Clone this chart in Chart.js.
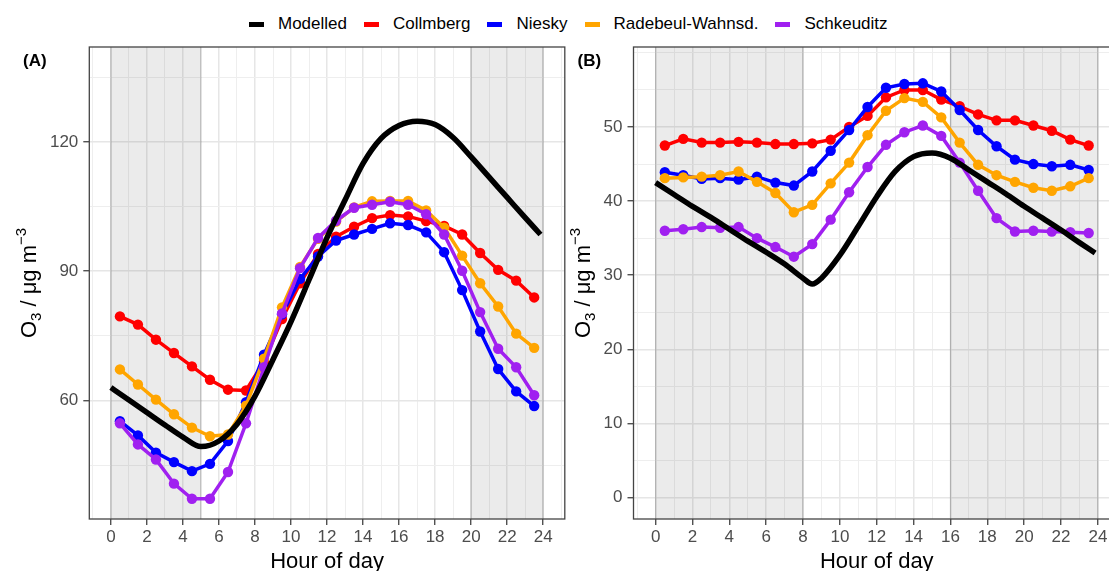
<!DOCTYPE html>
<html>
<head>
<meta charset="utf-8">
<script src="https://cdn.jsdelivr.net/npm/chart.js@4.4.1/dist/chart.umd.min.js"></script>
<style>
    html, body { margin: 0; padding: 0; background: #fff; }
    body { width: 1109px; height: 571px; overflow: hidden; position: relative; font-family: "Liberation Sans", Arial, sans-serif; }
    #legend { position: absolute; left: 249px; top: 14px; display: flex; align-items: center; font-size: 17px; line-height: 20px; color: #000; white-space: nowrap; }
    .item { display: flex; align-items: center; margin-right: 17px; }
    .sw { width: 15px; height: 5px; margin-right: 14px; }
    canvas { position: absolute; top: 0; }
    #chartA { left: 0; }
    #chartB { left: 560px; }
</style>
</head>
<body>
<div id="legend"></div>
<canvas id="chartA" width="570" height="571"></canvas>
<canvas id="chartB" width="580" height="571"></canvas>
<script>
// ---- data ----
const seriesNames = ["Modelled", "Collmberg", "Niesky", "Radebeul-Wahnsd.", "Schkeuditz"];
const seriesColors = ["#000000", "#FF0000", "#0000FF", "#FFA500", "#A020F0"];

const hoursObs = [0.5, 1.5, 2.5, 3.5, 4.5, 5.5, 6.5, 7.5, 8.5, 9.5, 10.5, 11.5,
                  12.5, 13.5, 14.5, 15.5, 16.5, 17.5, 18.5, 19.5, 20.5, 21.5, 22.5, 23.5];

// panel A
const hoursModelA = [0, 1, 2, 3, 4, 5, 6, 7, 8, 9, 10, 11, 12, 13, 14, 15, 16, 17, 18, 19, 20, 21, 22, 23, 23.85];
const modelA = [63.0, 60.1, 57.2, 54.3, 51.5, 49.3, 50.6, 54.5, 61.0, 69.5, 78.3, 88.0, 97.8, 106.5, 115.0,
                120.8, 123.8, 124.8, 124.0, 121.0, 116.5, 111.8, 107.1, 102.4, 98.5];
const collmbergA = [79.5, 77.6, 74.1, 71.0, 67.9, 64.8, 62.5, 62.3, 69.0, 78.9, 87.2, 94.0,
                    98.0, 100.3, 102.3, 103.0, 102.7, 101.6, 100.5, 98.5, 94.2, 90.3, 87.8, 83.9];
const nieskyA = [55.2, 51.9, 47.9, 45.7, 43.6, 45.3, 50.6, 59.6, 70.6, 80.0, 88.2, 93.4,
                 97.1, 98.5, 99.8, 101.1, 100.7, 99.0, 94.4, 85.6, 76.0, 67.3, 62.1, 58.7];
const radebeulA = [67.2, 63.7, 60.2, 56.8, 53.7, 51.7, 52.1, 58.8, 69.7, 81.6, 91.0, 97.5,
                   101.5, 104.8, 106.2, 106.3, 106.3, 104.1, 100.1, 93.6, 87.2, 81.8, 75.5, 72.2];
const schkeuditzA = [54.7, 49.8, 46.3, 40.7, 37.2, 37.2, 43.4, 54.7, 67.7, 80.2, 90.7, 97.7,
                     101.7, 104.7, 105.4, 106.1, 105.4, 103.2, 98.5, 90.1, 80.5, 72.0, 67.7, 61.2];
const nightA = [[0, 5], [20, 24]];

// panel B
const hoursModelB = [0, 1, 2, 3, 4, 5, 6, 7, 8, 8.5, 9, 10, 11, 12, 13, 14, 15, 16, 17, 18, 19, 20, 21, 22, 23, 23.85];
const modelB = [42.5, 40.9, 39.3, 37.8, 36.2, 34.6, 33.1, 31.5, 29.6, 28.8, 29.6, 32.7, 36.6, 40.6, 44.0,
                46.0, 46.5, 45.8, 44.2, 42.6, 41.0, 39.3, 37.7, 36.1, 34.4, 33.0];
const collmbergB = [47.5, 48.4, 47.9, 47.9, 48.0, 47.9, 47.7, 47.7, 47.8, 48.3, 50.0, 51.5,
                    54.0, 55.0, 55.0, 53.7, 52.8, 51.7, 50.9, 50.9, 50.2, 49.5, 48.3, 47.5];
const nieskyB = [43.9, 43.5, 43.0, 43.1, 42.9, 43.3, 42.5, 42.1, 44.0, 46.8, 49.6, 52.7,
                 55.3, 55.8, 55.9, 54.8, 52.3, 49.6, 47.4, 45.6, 45.0, 44.7, 44.9, 44.2];
const radebeulB = [43.1, 43.2, 43.3, 43.5, 44.0, 42.6, 41.1, 38.5, 39.5, 42.4, 45.2, 48.9,
                   52.2, 53.9, 53.4, 51.3, 47.9, 44.9, 43.5, 42.6, 41.8, 41.4, 42.0, 43.1];
const schkeuditzB = [36.0, 36.2, 36.5, 36.4, 36.5, 35.0, 33.8, 32.5, 34.2, 37.5, 41.2, 44.6,
                     47.6, 49.3, 50.2, 48.8, 45.2, 41.4, 37.7, 35.9, 36.0, 35.9, 35.8, 35.7];
const nightB = [[0, 8], [16, 24]];

const xTickLabels = [0, 2, 4, 6, 8, 10, 12, 14, 16, 18, 20, 22, 24];
const yTickLabelsA = [60, 90, 120];
const yTickLabelsB = [0, 10, 20, 30, 40, 50];

// ---- legend ----
const legend = document.getElementById("legend");
seriesNames.forEach((name, i) => {
    const item = document.createElement("div");
    item.className = "item";
    const sw = document.createElement("span");
    sw.className = "sw";
    sw.style.background = seriesColors[i];
    const label = document.createElement("span");
    label.textContent = name;
    item.appendChild(sw);
    item.appendChild(label);
    legend.appendChild(item);
});

// ---- chart ----
const FONT = '"Liberation Sans", Arial, sans-serif';
Chart.defaults.font.family = FONT;

const panelDecor = {
    id: "panelDecor",
    beforeDatasetsDraw(chart, args, opts) {
        const { ctx, chartArea: a, scales: { x } } = chart;
        ctx.save();
        ctx.beginPath();
        ctx.rect(a.left, a.top, a.right - a.left, a.bottom - a.top);
        ctx.clip();
        opts.night.forEach(([s, e]) => {
            const x0 = x.getPixelForValue(s), x1 = x.getPixelForValue(e);
            ctx.fillStyle = "rgba(0,0,0,0.08)";
            ctx.fillRect(x0, a.top, x1 - x0, a.bottom - a.top);
            ctx.strokeStyle = "rgba(0,0,0,0.2)";
            ctx.lineWidth = 1.2;
            [x0, x1].forEach(px => {
                ctx.beginPath();
                ctx.moveTo(px, a.top);
                ctx.lineTo(px, a.bottom);
                ctx.stroke();
            });
        });
        ctx.restore();
    },
    afterDraw(chart, args, opts) {
        const { ctx, chartArea: a } = chart;
        ctx.save();
        ctx.strokeStyle = "#444";
        ctx.lineWidth = 1.3;
        ctx.strokeRect(a.left, a.top, a.right - a.left, a.bottom - a.top);

        // panel tag
        ctx.fillStyle = "#000";
        ctx.font = `bold 17px ${FONT}`;
        ctx.textBaseline = "middle";
        ctx.textAlign = "left";
        ctx.fillText(opts.tag, opts.tagX, 61.5);

        // y title: O3 / ug m-3
        ctx.translate(opts.titleX, (a.top + a.bottom) / 2);
        ctx.rotate(-Math.PI / 2);
        ctx.textBaseline = "alphabetic";
        const big = `22px ${FONT}`, small = `15px ${FONT}`;
        const parts = [["O", big, 0], ["3", small, 5], [" / \u03BCg m", big, 0], ["\u22123", small, -10]];
        let w = 0;
        parts.forEach(p => { ctx.font = p[1]; w += ctx.measureText(p[0]).width; });
        let px = -w / 2;
        parts.forEach(p => {
            ctx.font = p[1];
            ctx.fillText(p[0], px, p[2]);
            px += ctx.measureText(p[0]).width;
        });
        ctx.restore();
    }
};

function lineSets(hoursModel, model, obs) {
    const sets = [{
        label: seriesNames[0],
        data: hoursModel.map((h, i) => ({ x: h, y: model[i] })),
        borderColor: seriesColors[0],
        borderWidth: 5.5,
        pointRadius: 0,
        cubicInterpolationMode: "monotone",
        order: 0
    }];
    obs.forEach((vals, k) => {
        sets.push({
            label: seriesNames[k + 1],
            data: hoursObs.map((h, i) => ({ x: h, y: vals[i] })),
            borderColor: seriesColors[k + 1],
            backgroundColor: seriesColors[k + 1],
            borderWidth: 3.5,
            pointRadius: 5.2,
            pointBorderWidth: 0,
            pointBackgroundColor: seriesColors[k + 1],
            order: 4 - k
        });
    });
    return sets;
}

function makeChart(id, p) {
    const isMajorX = v => xTickLabels.includes(v);
    const isMajorY = v => p.yLabels.includes(v);
    return new Chart(document.getElementById(id), {
        type: "line",
        data: { datasets: lineSets(p.hoursModel, p.model, p.obs) },
        options: {
            responsive: false,
            animation: false,
            events: [],
            layout: { padding: { left: 0, top: 47, right: p.padRight, bottom: 0 } },
            plugins: {
                legend: { display: false },
                tooltip: { enabled: false },
                panelDecor: { night: p.night, tag: p.tag, tagX: p.tagX, titleX: p.titleX }
            },
            scales: {
                x: {
                    type: "linear",
                    min: -1.2,
                    max: 25.2,
                    afterFit: s => { s.height = 52; },
                    ticks: {
                        stepSize: 1,
                        includeBounds: false,
                        autoSkip: false,
                        maxRotation: 0,
                        color: "#4d4d4d",
                        font: { size: 17 },
                        padding: 2,
                        callback: v => isMajorX(v) ? String(v) : ""
                    },
                    grid: {
                        color: c => isMajorX(c.tick.value) ? "#e6e6e6" : "#eeeeee",
                        lineWidth: c => isMajorX(c.tick.value) ? 1.5 : 1,
                        tickLength: 6,
                        tickColor: c => isMajorX(c.tick.value) ? "#333" : "rgba(0,0,0,0)",
                        tickWidth: 1.2
                    },
                    border: { display: false },
                    title: { display: true, text: "Hour of day", color: "#000", font: { size: 22 }, padding: { top: 0, bottom: -4 } }
                },
                y: {
                    type: "linear",
                    min: p.yMin,
                    max: p.yMax,
                    afterFit: s => { s.width = p.yWidth; },
                    ticks: {
                        stepSize: p.yStep,
                        includeBounds: false,
                        autoSkip: false,
                        color: "#4d4d4d",
                        font: { size: 17 },
                        padding: 5,
                        callback: v => isMajorY(v) ? String(v) : ""
                    },
                    grid: {
                        color: c => isMajorY(c.tick.value) ? "#e6e6e6" : "#eeeeee",
                        lineWidth: c => isMajorY(c.tick.value) ? 1.5 : 1,
                        tickLength: 6,
                        tickColor: c => isMajorY(c.tick.value) ? "#333" : "rgba(0,0,0,0)",
                        tickWidth: 1.2
                    },
                    border: { display: false }
                }
            }
        },
        plugins: [panelDecor]
    });
}

makeChart("chartA", {
    hoursModel: hoursModelA, model: modelA,
    obs: [collmbergA, nieskyA, radebeulA, schkeuditzA],
    night: nightA, yMin: 32.5, yMax: 142, yStep: 15, yLabels: yTickLabelsA,
    yWidth: 89.3, padRight: 3.4, tag: "(A)", tagX: 23, titleX: 36
});

makeChart("chartB", {
    hoursModel: hoursModelB, model: modelB,
    obs: [collmbergB, nieskyB, radebeulB, schkeuditzB],
    night: nightB, yMin: -2.9, yMax: 60.8, yStep: 5, yLabels: yTickLabelsB,
    yWidth: 73.5, padRight: 20, tag: "(B)", tagX: 17.5, titleX: 30
});
</script>
</body>
</html>
